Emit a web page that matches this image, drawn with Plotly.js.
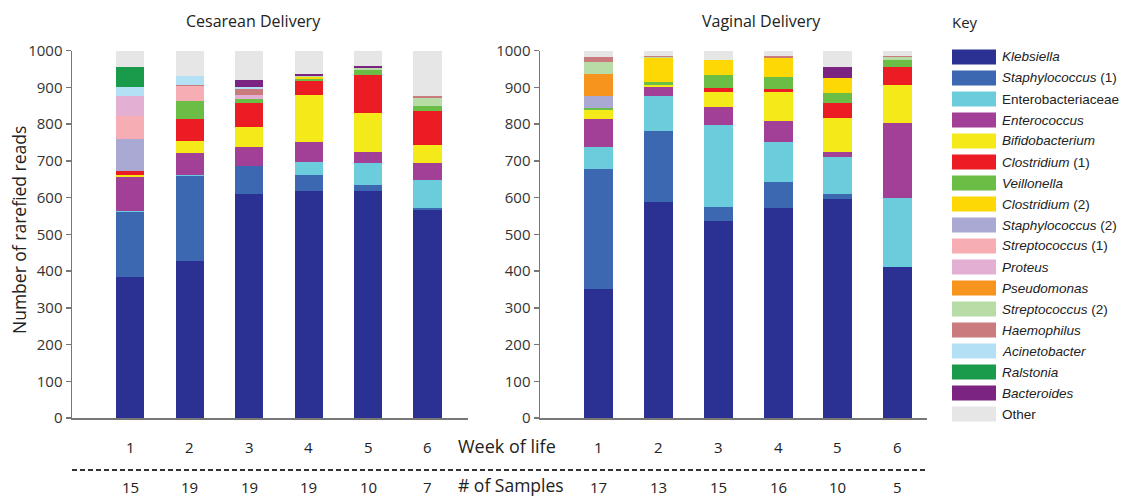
<!DOCTYPE html>
<html>
<head>
<meta charset="utf-8">
<script src="https://cdn.plot.ly/plotly-3.0.1.min.js"></script>
<style>html,body{margin:0;padding:0;background:#fff;}#chart{width:1128px;height:498px;}</style>
</head>
<body>
<div id="chart"></div>
<script>
// ---- data ----
const weeks = [1, 2, 3, 4, 5, 6];
const samplesCesarean = [15, 19, 19, 19, 10, 7];
const samplesVaginal = [17, 13, 15, 16, 10, 5];

const taxa = ["<i>Klebsiella</i>", "<i>Staphylococcus</i> (1)", "Enterobacteriaceae", "<i>Enterococcus</i>",
  "<i>Bifidobacterium</i>", "<i>Clostridium</i> (1)", "<i>Veillonella</i>", "<i>Clostridium</i> (2)",
  "<i>Staphylococcus</i> (2)", "<i>Streptococcus</i> (1)", "<i>Proteus</i>", "<i>Pseudomonas</i>",
  "<i>Streptococcus</i> (2)", "<i>Haemophilus</i>", "<i>Acinetobacter</i>", "<i>Ralstonia</i>",
  "<i>Bacteroides</i>", "Other"];
const colors = ["#2b3192", "#3c67b1", "#6bccdc", "#a23f96", "#f4ea1a", "#ec1c24", "#6abd45", "#fdd805",
  "#aaa9d4", "#f6aeb4", "#e3afd3", "#f7941d", "#b7dca6", "#c97b7d", "#b3e0f5", "#1a9b4b", "#7b2481", "#e6e6e6"];

// Cesarean delivery, weeks 1..6
const cesKlebsiella      = [385, 428, 610, 619, 617, 567];
const cesStaphylococcus1 = [176, 230, 75, 43, 18, 4];
const cesEnterobact      = [3, 4, 0, 35, 59, 76];
const cesEnterococcus    = [93, 59, 52, 53, 29, 47];
const cesBifidobacterium = [5, 32, 55, 130, 107, 50];
const cesClostridium1    = [9, 61, 65, 37, 102, 91];
const cesVeillonella     = [0, 48, 11, 6, 15, 15];
const cesClostridium2    = [0, 0, 0, 4, 0, 0];
const cesStaphylococcus2 = [89, 0, 0, 0, 0, 0];
const cesStreptococcus1  = [61, 41, 0, 0, 0, 0];
const cesProteus         = [54, 0, 12, 0, 0, 0];
const cesPseudomonas     = [0, 0, 0, 0, 0, 0];
const cesStreptococcus2  = [2, 0, 0, 3, 6, 22];
const cesHaemophilus     = [0, 4, 16, 0, 0, 3];
const cesAcinetobacter   = [23, 23, 4, 0, 0, 0];
const cesRalstonia       = [56, 0, 0, 0, 0, 0];
const cesBacteroides     = [0, 0, 21, 5, 4, 0];
const cesOther           = [44, 70, 79, 65, 43, 125];

// Vaginal delivery, weeks 1..6
const vagKlebsiella      = [351, 587, 535, 571, 596, 410];
const vagStaphylococcus1 = [326, 195, 38, 70, 14, 0];
const vagEnterobact      = [60, 95, 225, 109, 99, 189];
const vagEnterococcus    = [77, 23, 49, 57, 15, 204];
const vagBifidobacterium = [25, 5, 41, 79, 91, 102];
const vagClostridium1    = [0, 0, 11, 8, 42, 51];
const vagVeillonella     = [5, 8, 34, 33, 28, 18];
const vagClostridium2    = [0, 67, 42, 53, 41, 0];
const vagStaphylococcus2 = [33, 0, 0, 0, 0, 0];
const vagStreptococcus1  = [0, 0, 0, 0, 0, 0];
const vagProteus         = [0, 0, 0, 0, 0, 0];
const vagPseudomonas     = [60, 0, 0, 0, 0, 0];
const vagStreptococcus2  = [31, 3, 0, 0, 0, 9];
const vagHaemophilus     = [15, 3, 0, 4, 0, 3];
const vagAcinetobacter   = [0, 0, 0, 0, 0, 0];
const vagRalstonia       = [0, 0, 0, 0, 0, 0];
const vagBacteroides     = [0, 0, 0, 0, 30, 0];
const vagOther           = [17, 14, 25, 16, 44, 14];

const cesSeries = [cesKlebsiella, cesStaphylococcus1, cesEnterobact, cesEnterococcus, cesBifidobacterium,
  cesClostridium1, cesVeillonella, cesClostridium2, cesStaphylococcus2, cesStreptococcus1, cesProteus,
  cesPseudomonas, cesStreptococcus2, cesHaemophilus, cesAcinetobacter, cesRalstonia, cesBacteroides, cesOther];
const vagSeries = [vagKlebsiella, vagStaphylococcus1, vagEnterobact, vagEnterococcus, vagBifidobacterium,
  vagClostridium1, vagVeillonella, vagClostridium2, vagStaphylococcus2, vagStreptococcus1, vagProteus,
  vagPseudomonas, vagStreptococcus2, vagHaemophilus, vagAcinetobacter, vagRalstonia, vagBacteroides, vagOther];

// ---- build ----
const W = 1128, H = 498;
const px = x => x / W;
const py = y => 1 - y / H;

const traces = [];
taxa.forEach((name, i) => {
  traces.push({type: 'bar', x: weeks, y: cesSeries[i], xaxis: 'x', yaxis: 'y', name: name,
    marker: {color: colors[i], line: {width: 0}}, width: 0.475, showlegend: false, hoverinfo: 'skip'});
  traces.push({type: 'bar', x: weeks, y: vagSeries[i], xaxis: 'x2', yaxis: 'y2', name: name,
    marker: {color: colors[i], line: {width: 0}}, width: 0.485, showlegend: false, hoverinfo: 'skip'});
});

const txtFont = {family: 'Open Sans, sans-serif', color: '#222'};
const annotations = [];
const shapes = [];

// titles
annotations.push({text: 'Cesarean Delivery', x: px(253), y: py(21), xref: 'paper', yref: 'paper',
  showarrow: false, xanchor: 'center', yanchor: 'middle', font: Object.assign({size: 16}, txtFont)});
annotations.push({text: 'Vaginal Delivery', x: px(761), y: py(21), xref: 'paper', yref: 'paper',
  showarrow: false, xanchor: 'center', yanchor: 'middle', font: Object.assign({size: 16}, txtFont)});
annotations.push({text: 'Number of rarefied reads', x: px(19), y: py(230), xref: 'paper', yref: 'paper',
  textangle: -90, showarrow: false, xanchor: 'center', yanchor: 'middle', font: Object.assign({size: 17.5}, txtFont)});
annotations.push({text: 'Key', x: px(950), y: py(22), xref: 'paper', yref: 'paper',
  showarrow: false, xanchor: 'left', yanchor: 'middle', font: Object.assign({size: 15}, txtFont)});

// week and sample rows
annotations.push({text: 'Week of life', x: px(456), y: py(446), xref: 'paper', yref: 'paper',
  showarrow: false, xanchor: 'left', yanchor: 'middle', font: Object.assign({size: 18}, txtFont)});
annotations.push({text: '# of Samples', x: px(456), y: py(485), xref: 'paper', yref: 'paper',
  showarrow: false, xanchor: 'left', yanchor: 'middle', font: Object.assign({size: 17.5}, txtFont)});
weeks.forEach((w, i) => {
  annotations.push({text: String(w), x: w, xref: 'x', y: py(447), yref: 'paper', showarrow: false,
    yanchor: 'middle', font: Object.assign({size: 15}, txtFont)});
  annotations.push({text: String(w), x: w, xref: 'x2', y: py(447), yref: 'paper', showarrow: false,
    yanchor: 'middle', font: Object.assign({size: 15}, txtFont)});
  annotations.push({text: String(samplesCesarean[i]), x: w, xref: 'x', y: py(487), yref: 'paper', showarrow: false,
    yanchor: 'middle', font: Object.assign({size: 15}, txtFont)});
  annotations.push({text: String(samplesVaginal[i]), x: w, xref: 'x2', y: py(487), yref: 'paper', showarrow: false,
    yanchor: 'middle', font: Object.assign({size: 15}, txtFont)});
});
shapes.push({type: 'line', xref: 'paper', yref: 'paper', x0: px(72), x1: px(927), y0: py(470), y1: py(470),
  line: {color: '#333', width: 2, dash: '5px,3px'}});

// key (legend)
taxa.forEach((name, i) => {
  const yc = 57 + 21 * i;
  shapes.push({type: 'rect', xref: 'paper', yref: 'paper', x0: px(952), x1: px(996),
    y0: py(yc - 7.5), y1: py(yc + 7.5), fillcolor: colors[i], line: {width: 0}});
  annotations.push({text: name, x: px(1000), y: py(yc), xref: 'paper', yref: 'paper', showarrow: false,
    xanchor: 'left', yanchor: 'middle', font: {family: 'Liberation Sans, Arial, sans-serif', size: 13.5, color: '#222'}});
});

const yDom = [py(418), py(50.5)];
const axisCommon = {showgrid: false, zeroline: false, showline: true, linecolor: '#777', linewidth: 1.5};
const yCommon = Object.assign({}, axisCommon, {range: [0, 1000], domain: yDom, ticks: 'outside', ticklen: 5,
  tickcolor: '#777', tickwidth: 1.5, dtick: 100, tickfont: {family: 'Open Sans, sans-serif', size: 15, color: '#333'}});

const layout = {
  width: W, height: H,
  margin: {l: 0, r: 0, t: 0, b: 0},
  paper_bgcolor: '#fff', plot_bgcolor: '#fff',
  barmode: 'stack',
  showlegend: false,
  xaxis: Object.assign({}, axisCommon, {domain: [px(72), px(468)], range: [0.02, 6.68], showticklabels: false, ticks: '', anchor: 'y'}),
  yaxis: Object.assign({}, yCommon, {anchor: 'x'}),
  xaxis2: Object.assign({}, axisCommon, {domain: [px(540), px(927)], range: [0.022, 6.49], showticklabels: false, ticks: '', anchor: 'y2'}),
  yaxis2: Object.assign({}, yCommon, {anchor: 'x2'}),
  annotations: annotations,
  shapes: shapes
};

Plotly.newPlot('chart', traces, layout, {staticPlot: true, displayModeBar: false});
</script>
</body>
</html>
